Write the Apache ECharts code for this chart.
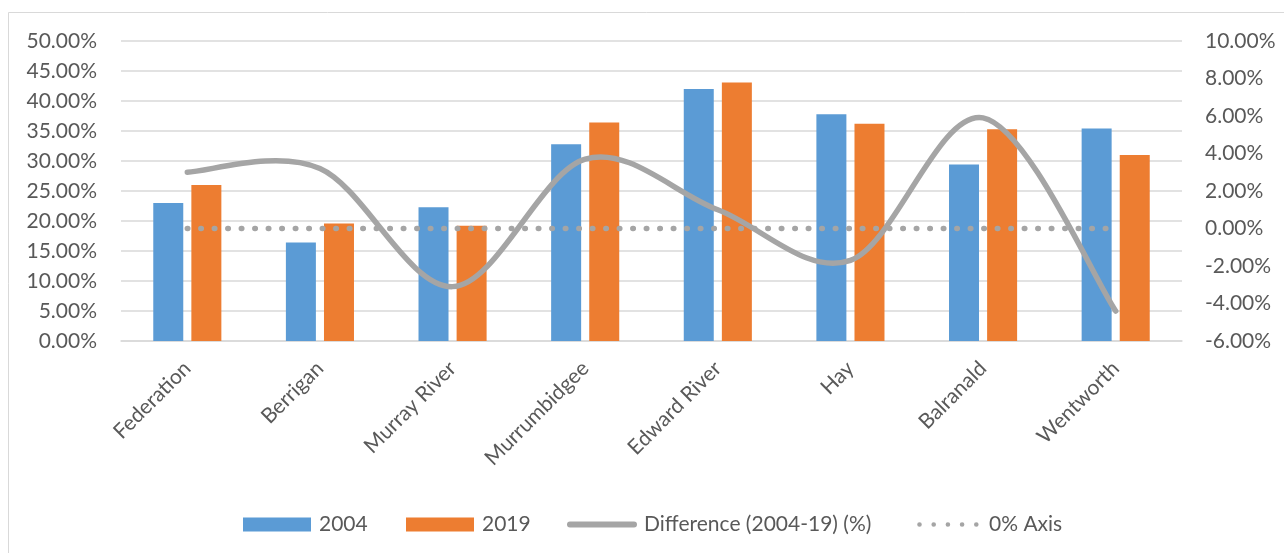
<!DOCTYPE html>
<html>
<head>
<meta charset="utf-8">
<script src="https://cdn.jsdelivr.net/npm/echarts@6/dist/echarts.min.js"></script>
<style>
  html, body { margin: 0; padding: 0; background: #fff; }
  #chart { width: 1284px; height: 553px; }
</style>
</head>
<body>
<div id="chart"></div>
<script>
// Local government areas along the x axis
const categories = ['Federation', 'Berrigan', 'Murray River', 'Murrumbidgee', 'Edward River', 'Hay', 'Balranald', 'Wentworth'];
// Shares in percent (left axis)
const values2004 = [23.0, 16.4, 22.3, 32.8, 42.0, 37.8, 29.4, 35.4];
const values2019 = [26.0, 19.6, 19.2, 36.4, 43.1, 36.2, 35.3, 31.0];
// Change between the two years in percentage points (right axis)
const difference = [3.0, 3.2, -3.1, 3.7, 1.0, -1.7, 5.9, -4.4];
// Reference line at zero on the right axis
const zeroAxis = [0, 0, 0, 0, 0, 0, 0, 0];

const seriesNames = ['2004', '2019', 'Difference (2004-19) (%)', '0% Axis'];

const font = 'Lato, "Open Sans", sans-serif';
const textColor = '#595959';
const lineGrey = '#A5A5A5';
const pct = v => v.toFixed(2) + '%';

// Legend glyphs: tiny corner anchors fix the bounding box so the shapes keep their proportions
const anchorBox = (w, h) => `M0,0 L0.01,0 L0,0.01 Z M${w},${h} L${w - 0.01},${h} L${w},${h - 0.01} Z `;
const thickLineIcon = 'path://' + anchorBox(70, 14) + 'M3,4 L67,4 A3,3 0 0 1 67,10 L3,10 A3,3 0 0 1 3,4 Z';
let dots = '';
for (let i = 0; i < 5; i++) {
  const cx = 2.5 + i * 14.2;
  dots += `M${cx - 2.3},7 A2.3,2.3 0 1 0 ${cx + 2.3},7 A2.3,2.3 0 1 0 ${cx - 2.3},7 Z `;
}
const dotIcon = 'path://' + anchorBox(62, 14) + dots;

// Cardinal (Catmull-Rom) spline through the projected points of the difference series
function renderSmoothLine(params, api) {
  if (params.dataIndex !== 0) return null;
  const pts = difference.map((v, i) => api.coord([i, v]));
  const n = pts.length;
  let d = `M${pts[0][0]},${pts[0][1]}`;
  for (let i = 0; i < n - 1; i++) {
    const p0 = pts[Math.max(i - 1, 0)];
    const p1 = pts[i];
    const p2 = pts[i + 1];
    const p3 = pts[Math.min(i + 2, n - 1)];
    const c1 = [p1[0] + (p2[0] - p0[0]) / 6, p1[1] + (p2[1] - p0[1]) / 6];
    const c2 = [p2[0] - (p3[0] - p1[0]) / 6, p2[1] - (p3[1] - p1[1]) / 6];
    d += ` C${c1[0]},${c1[1]} ${c2[0]},${c2[1]} ${p2[0]},${p2[1]}`;
  }
  return {
    type: 'path',
    shape: { pathData: d },
    style: { fill: 'none', stroke: lineGrey, lineWidth: 5.5, lineCap: 'round', lineJoin: 'round' }
  };
}

// One legend block per series so each entry sits at its own spot along the bottom row
const legendIcons = ['rect', 'rect', thickLineIcon, dotIcon];
const legendIconWidths = [68, 68, 70, 62];
const legendLeft = [243, 406, 567, 917];
const legendTextGap = [3, 3, 2, 5];

const legends = seriesNames.map((name, i) => ({
  left: legendLeft[i],
  top: 514,
  padding: 0,
  itemWidth: legendIconWidths[i],
  itemHeight: 14,
  selectedMode: false,
  textStyle: {
    color: textColor, fontFamily: font, fontSize: 21, lineHeight: 14,
    padding: [0, 0, 0, legendTextGap[i]]
  },
  data: [{ name: name, icon: legendIcons[i] }]
}));

const chart = echarts.init(document.getElementById('chart'), null, { renderer: 'canvas' });
chart.setOption({
  animation: false,
  backgroundColor: '#ffffff',
  graphic: [{
    type: 'rect',
    shape: { x: 8.5, y: 12.5, width: 1290, height: 560 },
    style: { fill: 'none', stroke: '#d9d9d9', lineWidth: 1 },
    silent: true
  }],
  grid: { left: 121, right: 102, top: 41, bottom: 212, containLabel: false },
  legend: legends,
  xAxis: {
    type: 'category',
    data: categories,
    axisLine: { lineStyle: { color: '#d9d9d9', width: 1.5 } },
    axisTick: { show: false },
    axisLabel: { rotate: 45, color: textColor, fontFamily: font, fontSize: 21, margin: 24, interval: 0 }
  },
  yAxis: [{
    type: 'value',
    min: 0, max: 50, interval: 5,
    axisLine: { show: false },
    axisTick: { show: false },
    splitLine: { lineStyle: { color: '#d9d9d9', width: 1.5 } },
    axisLabel: { formatter: pct, color: textColor, fontFamily: font, fontSize: 21, margin: 24 }
  }, {
    type: 'value',
    min: -6, max: 10, interval: 2,
    axisLine: { show: false },
    axisTick: { show: false },
    splitLine: { show: false },
    axisLabel: { formatter: pct, color: textColor, fontFamily: font, fontSize: 21, margin: 23 }
  }],
  series: [{
    name: seriesNames[0],
    type: 'bar',
    data: values2004,
    barWidth: 30,
    barGap: '27%',
    itemStyle: { color: '#5B9BD5' }
  }, {
    name: seriesNames[1],
    type: 'bar',
    data: values2019,
    barWidth: 30,
    barGap: '27%',
    itemStyle: { color: '#ED7D31' }
  }, {
    name: seriesNames[2],
    type: 'custom',
    yAxisIndex: 1,
    data: difference.map((v, i) => [i, v]),
    renderItem: renderSmoothLine,
    itemStyle: { color: lineGrey },
    clip: false,
    z: 5
  }, {
    name: seriesNames[3],
    type: 'line',
    yAxisIndex: 1,
    data: zeroAxis,
    symbol: 'none',
    showSymbol: false,
    lineStyle: { color: lineGrey, width: 5.5, type: [0.5, 13], cap: 'round' },
    itemStyle: { color: lineGrey },
    z: 4
  }]
});
</script>
</body>
</html>
